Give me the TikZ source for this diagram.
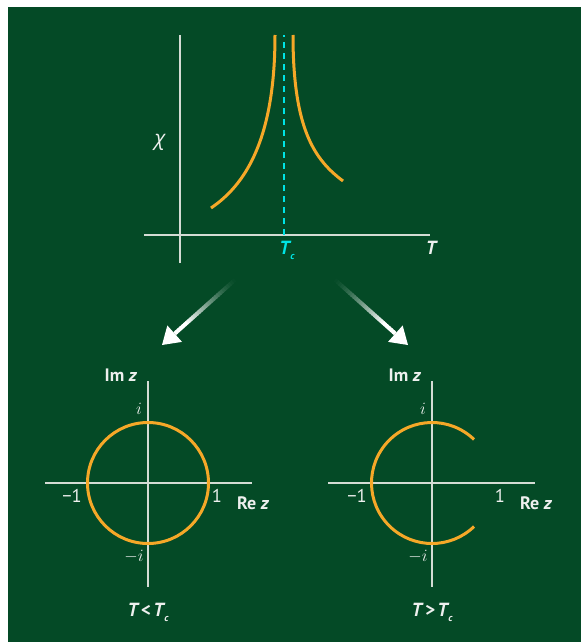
\documentclass[tikz,border=0pt]{standalone}
\usepackage{fontspec}
\setmainfont{PT Sans}
\newfontfamily\greekfont{Open Sans}
\usetikzlibrary{calc}
\definecolor{bg}{RGB}{4,74,38}
\definecolor{curvec}{RGB}{245,168,40}
\definecolor{axisc}{RGB}{212,220,212}
\definecolor{tcc}{RGB}{0,228,228}
\definecolor{labc}{RGB}{238,240,238}
\newcommand{\Tsub}{\textit{T}\kern0.5pt\raisebox{-5pt}{\fontsize{10}{10}\selectfont\itshape c}}
\begin{document}
\begin{tikzpicture}[x=1pt,y=-1pt,
  axisline/.style={draw=axisc, line width=1.8pt},
  curveline/.style={draw=curvec, line width=3pt},
  lbl/.style={text=labc, inner sep=0pt, font=\bfseries\fontsize{18}{20}\selectfont},
  mlbl/.style={text=labc, inner sep=0pt, font=\fontsize{18.5}{20}\selectfont},
  tlbl/.style={text=labc, inner sep=0pt, font=\bfseries\itshape\fontsize{19}{20}\selectfont}]
\useasboundingbox (0,0) rectangle (581,642);
\fill[white] (0,0) rectangle (581,642);
\fill[bg] (8,7) rectangle (581,642);

% ---------- top plot ----------
\coordinate (tyT) at (180,35);
\coordinate (tyB) at (180,263);
\coordinate (txL) at (144,235);
\coordinate (txR) at (430,235);
\coordinate (tcB) at (284,235);
\coordinate (tcT) at (284,35);
\draw[axisline] (tyB) -- (tyT);
\draw[axisline] (txL) -- (txR);
\draw[tcc, line width=1.6pt, dash pattern=on 6pt off 5pt] (tcB) -- (tcT);
\draw[curveline] (211,208) .. controls (245,185) and (275,140) .. (275,35);
\draw[curveline] (293,35) .. controls (293,130) and (315,160) .. (343,181);
\node[mlbl, font=\greekfont\itshape\fontsize{21}{22}\selectfont] (chi) at (160,142) {χ};
\node[tlbl, text=tcc, anchor=north] (tc) at (287,241) {\Tsub};
\node[tlbl, anchor=north] (tT) at (431,241) {T};

% ---------- arrows ----------
\coordinate (a1s) at (237,278);
\coordinate (a1e) at (162,345);
\coordinate (a2s) at (333,278);
\coordinate (a2e) at (408,345);
\foreach \s/\e in {a1s/a1e, a2s/a2e}{
  \coordinate (hb) at ($(\e)!17pt!(\s)$);
  \foreach \i in {0,...,29}{
    \pgfmathsetmacro{\p}{min(100,100*(\i/24)^1.4)}
    \pgfmathsetmacro{\ta}{\i/30}
    \pgfmathsetmacro{\tb}{(\i+1.3)/30}
    \draw[white!\p!bg, line width=4pt] ($(\s)!\ta!(hb)$) -- ($(\s)!{min(1,\tb)}!(hb)$);
  }
  \fill[white] (\e) -- ($(hb)!11pt!90:(\s)$) -- ($(hb)!11pt!-90:(\s)$) -- cycle;
}

% ---------- bottom left ----------
\coordinate (c1) at (148,483);
\draw[axisline] (45,483) -- (252,483);
\draw[axisline] (148,381) -- (148,587);
\draw[curveline] (c1) circle (60.5pt);
\node[lbl] (im1) at (121,375) {Im \textit{z}};
\node[lbl, anchor=west] (re1) at (237,503) {Re \textit{z}};
\node[mlbl] (i1) at (139,409) {$i$};
\node[mlbl] (mi1) at (134,557) {$-i$};
\node[mlbl] (m11) at (72,496) {−1};
\node[mlbl] (p11) at (217,496) {1};
\node[tlbl] (cap1) at (148,612) {T\kern3pt<\kern3pt\Tsub};

% ---------- bottom right ----------
\coordinate (c2) at (432,483);
\draw[axisline] (328,483) -- (535,483);
\draw[axisline] (432,381) -- (432,587);
\draw[curveline] ($(c2)+(46:60.5pt)$) arc[start angle=46, end angle=314, radius=60.5pt];
\node[lbl] (im2) at (405,375) {Im \textit{z}};
\node[lbl, anchor=west] (re2) at (520,503) {Re \textit{z}};
\node[mlbl] (i2) at (423,409) {$i$};
\node[mlbl] (mi2) at (418,557) {$-i$};
\node[mlbl] (m12) at (357,496) {−1};
\node[mlbl] (p12) at (500,496) {1};
\node[tlbl] (cap2) at (432,612) {T\kern3pt>\kern3pt\Tsub};
\end{tikzpicture}
\end{document}
